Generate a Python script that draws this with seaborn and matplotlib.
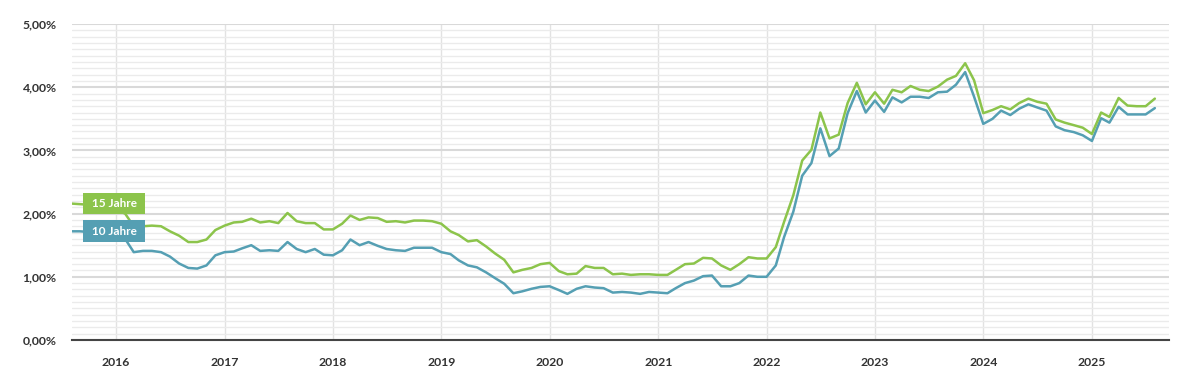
import numpy as np
import pandas as pd
import matplotlib
matplotlib.use("Agg")
import matplotlib.pyplot as plt
import matplotlib.dates as mdates
from matplotlib.ticker import MultipleLocator, FuncFormatter
from matplotlib.transforms import blended_transform_factory
import seaborn as sns

# monthly rates, Aug 2015 .. Aug 2025
months = pd.date_range("2015-08-01", periods=121, freq="MS")

rate_15y = [
    2.16, 2.15, 2.14, 2.12, 2.10, 2.06, 2.00, 1.80, 1.80, 1.81,
    1.80, 1.72, 1.65, 1.55, 1.55, 1.59, 1.74, 1.81, 1.86, 1.87,
    1.92, 1.86, 1.88, 1.85, 2.01, 1.88, 1.85, 1.85, 1.75, 1.75,
    1.84, 1.97, 1.90, 1.94, 1.93, 1.87, 1.88, 1.86, 1.89, 1.89,
    1.88, 1.84, 1.72, 1.66, 1.56, 1.58, 1.48, 1.37, 1.27, 1.07,
    1.11, 1.14, 1.20, 1.22, 1.09, 1.04, 1.05, 1.17, 1.14, 1.14,
    1.04, 1.05, 1.03, 1.04, 1.04, 1.03, 1.03, 1.11, 1.20, 1.21,
    1.30, 1.29, 1.18, 1.11, 1.20, 1.31, 1.29, 1.29, 1.47, 1.87,
    2.29, 2.84, 3.01, 3.60, 3.19, 3.25, 3.75, 4.07, 3.73, 3.92,
    3.74, 3.96, 3.92, 4.02, 3.96, 3.94, 4.01, 4.12, 4.18, 4.38,
    4.11, 3.59, 3.64, 3.70, 3.65, 3.75, 3.82, 3.77, 3.74, 3.49,
    3.44, 3.40, 3.36, 3.26, 3.60, 3.53, 3.83, 3.71, 3.70, 3.70,
    3.82,
]

rate_10y = [
    1.72, 1.72, 1.71, 1.70, 1.68, 1.65, 1.60, 1.39, 1.41, 1.41,
    1.39, 1.32, 1.21, 1.14, 1.13, 1.18, 1.34, 1.39, 1.40, 1.45,
    1.50, 1.41, 1.42, 1.41, 1.55, 1.44, 1.39, 1.44, 1.35, 1.34,
    1.42, 1.59, 1.50, 1.55, 1.49, 1.44, 1.42, 1.41, 1.46, 1.46,
    1.46, 1.39, 1.36, 1.26, 1.18, 1.15, 1.07, 0.98, 0.89, 0.74,
    0.77, 0.81, 0.84, 0.85, 0.79, 0.73, 0.81, 0.85, 0.83, 0.82,
    0.75, 0.76, 0.75, 0.73, 0.76, 0.75, 0.74, 0.82, 0.90, 0.94,
    1.01, 1.02, 0.85, 0.85, 0.90, 1.02, 1.00, 1.00, 1.18, 1.63,
    2.03, 2.60, 2.80, 3.35, 2.91, 3.03, 3.59, 3.94, 3.60, 3.79,
    3.61, 3.84, 3.76, 3.85, 3.85, 3.83, 3.92, 3.93, 4.04, 4.24,
    3.85, 3.42, 3.50, 3.63, 3.56, 3.66, 3.73, 3.68, 3.63, 3.38,
    3.32, 3.29, 3.24, 3.15, 3.51, 3.44, 3.69, 3.57, 3.57, 3.57,
    3.67,
]

series_names = ["10 Jahre", "15 Jahre"]
GREEN = "#8cc44b"
BLUE = "#559fb3"
TEXT = "#333333"

df = pd.DataFrame({
    "Datum": list(months) * 2,
    "Zins": rate_10y + rate_15y,
    "Laufzeit": [series_names[0]] * len(months) + [series_names[1]] * len(months),
})

sns.set_theme(style="white")
plt.rcParams["font.family"] = ["Lato", "DejaVu Sans"]

fig, ax = plt.subplots(figsize=(12, 3.82), dpi=100)
fig.subplots_adjust(left=0.06, right=0.974, bottom=0.110, top=0.937)

sns.lineplot(
    data=df, x="Datum", y="Zins", hue="Laufzeit", hue_order=series_names,
    palette={"15 Jahre": GREEN, "10 Jahre": BLUE},
    linewidth=1.8, legend=False, ax=ax, zorder=3,
)

ax.set_xlim(pd.Timestamp("2015-08-06"), pd.Timestamp("2025-09-17"))
ax.set_ylim(0, 5)

# grid
ax.yaxis.set_major_locator(MultipleLocator(1))
ax.yaxis.set_minor_locator(MultipleLocator(0.1))
ax.yaxis.set_major_formatter(FuncFormatter(lambda v, _: f"{v:.2f}%".replace(".", ",")))
ax.xaxis.set_major_locator(mdates.YearLocator())
ax.xaxis.set_major_formatter(mdates.DateFormatter("%Y"))
ax.grid(which="major", axis="y", color="#d9d9d9", linewidth=1.5, zorder=0)
ax.grid(which="minor", axis="y", color="#ebebeb", linewidth=1.0, zorder=0)
ax.grid(which="major", axis="x", color="#e2e2e2", linewidth=1.0, zorder=0)
ax.set_axisbelow(True)

for side in ["top", "right", "left"]:
    ax.spines[side].set_visible(False)
ax.spines["bottom"].set_color("#444444")
ax.spines["bottom"].set_linewidth(1.5)
ax.spines["bottom"].set_zorder(4)

ax.tick_params(axis="both", which="both", length=0, labelsize=8.8, labelcolor=TEXT)
ax.tick_params(axis="y", pad=11)
ax.tick_params(axis="x", pad=12)
for lab in ax.get_xticklabels() + ax.get_yticklabels():
    lab.set_fontweight("bold")
ax.set_xlabel("")
ax.set_ylabel("")

# series labels at the left edge
trans = blended_transform_factory(ax.transAxes, ax.transData)
for name, color, yval in [("15 Jahre", GREEN, rate_15y[0]), ("10 Jahre", BLUE, rate_10y[0])]:
    ax.text(0.0383, yval, f" {name} ", transform=trans, ha="center", va="center",
            color="white", fontsize=8.5, fontweight="bold", zorder=6,
            bbox=dict(boxstyle="square,pad=0.45", fc=color, ec="none"))

fig.savefig("out.png", dpi=100)
